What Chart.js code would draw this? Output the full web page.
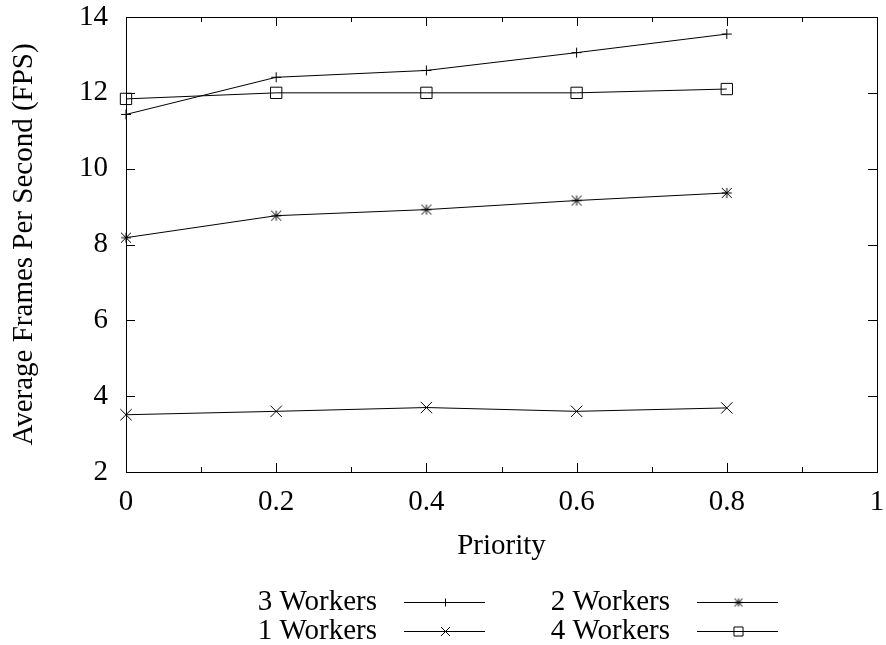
<!DOCTYPE html>
<html>
<head>
<meta charset="utf-8">
<script src="https://cdn.jsdelivr.net/npm/chart.js@4/dist/chart.umd.min.js"></script>
<style>
  body { margin: 0; background: #fff; }
  #wrap { width: 886px; height: 645px; }
</style>
</head>
<body>
<div id="wrap"><canvas id="fpsChart" width="886" height="645"></canvas></div>
<script>
// priority values on the x axis
const priority = [0, 0.2, 0.4, 0.6, 0.8];
// average FPS per worker count
const workers3 = [11.43, 12.41, 12.59, 13.06, 13.55];
const workers2 = [8.18, 8.76, 8.92, 9.16, 9.36];
const workers1 = [3.51, 3.60, 3.70, 3.60, 3.69];
const workers4 = [11.84, 12.0, 12.0, 12.0, 12.1];
const seriesNames = ["3 Workers", "2 Workers", "1 Workers", "4 Workers"];

const FONT = "'Liberation Serif', 'Times New Roman', serif";
const FS = 29;

// gnuplot style asterisk (+ and x in the same box)
function asterisk(r) {
  const c = document.createElement("canvas");
  c.width = c.height = 2 * r + 2;
  const g = c.getContext("2d");
  const m = r + 1;
  g.strokeStyle = "#000";
  g.lineWidth = 1;
  g.beginPath();
  g.moveTo(m, m - r); g.lineTo(m, m + r);
  g.moveTo(m - r, m); g.lineTo(m + r, m);
  g.moveTo(m - r, m - r); g.lineTo(m + r, m + r);
  g.moveTo(m - r, m + r); g.lineTo(m + r, m - r);
  g.stroke();
  return c;
}
const starBig = asterisk(5);
const starSmall = asterisk(4);

function pts(vals) {
  return priority.map((p, i) => ({ x: p, y: vals[i] }));
}

function makeSet(label, vals, style, radius, legendStyle) {
  return {
    label: label,
    data: pts(vals),
    borderColor: "#000",
    borderWidth: 1,
    pointStyle: style,
    legendStyle: legendStyle || style,
    pointRadius: radius,
    pointBorderColor: "#000",
    pointBorderWidth: 1,
    pointBackgroundColor: "rgba(0,0,0,0)",
    fill: false,
    tension: 0,
    clip: false,
  };
}

// gnuplot-like frame: box + inward ticks on all sides, and the key below
const framePlugin = {
  id: "frame",
  afterDatasetsDraw(chart) {
    const { ctx, chartArea: a, scales } = chart;
    ctx.save();
    ctx.strokeStyle = "#000";
    ctx.lineWidth = 1;
    ctx.strokeRect(a.left + 0.5, a.top + 0.5, a.right - a.left, a.bottom - a.top);
    ctx.beginPath();
    const xt = scales.x.ticks.map(t => t.value);
    xt.forEach((v, i) => {
      const px = Math.round(scales.x.getPixelForValue(v)) + 0.5;
      ctx.moveTo(px, a.bottom); ctx.lineTo(px, a.bottom - 9);
      ctx.moveTo(px, a.top); ctx.lineTo(px, a.top + 9);
      if (i < xt.length - 1) {
        const mx = Math.round(scales.x.getPixelForValue((v + xt[i + 1]) / 2)) + 0.5;
        ctx.moveTo(mx, a.bottom); ctx.lineTo(mx, a.bottom - 5);
        ctx.moveTo(mx, a.top); ctx.lineTo(mx, a.top + 5);
      }
    });
    scales.y.ticks.forEach(t => {
      const py = Math.round(scales.y.getPixelForValue(t.value)) + 0.5;
      ctx.moveTo(a.left, py); ctx.lineTo(a.left + 9, py);
      ctx.moveTo(a.right, py); ctx.lineTo(a.right - 9, py);
    });
    ctx.stroke();
    ctx.restore();
  },
  afterDraw(chart) {
    const { ctx } = chart;
    const cols = [{ textRight: 377, x0: 404, x1: 485 }, { textRight: 670, x0: 697, x1: 778 }];
    const rows = [602, 631];
    ctx.save();
    ctx.font = FS + "px " + FONT;
    ctx.textAlign = "right";
    ctx.textBaseline = "middle";
    chart.data.datasets.forEach((ds, i) => {
      const c = cols[i % 2];
      const y = rows[Math.floor(i / 2)];
      ctx.fillStyle = "#000";
      ctx.fillText(ds.label, c.textRight, y);
      ctx.strokeStyle = "#000";
      ctx.lineWidth = 1;
      ctx.beginPath();
      ctx.moveTo(c.x0, y + 0.5);
      ctx.lineTo(c.x1, y + 0.5);
      ctx.stroke();
      ctx.fillStyle = "rgba(0,0,0,0)";
      Chart.helpers.drawPoint(ctx, {
        pointStyle: ds.legendStyle,
        radius: ds.pointRadius * 0.8,
        borderWidth: 1,
      }, Math.round((c.x0 + c.x1) / 2) + 0.5, y + 0.5);
    });
    ctx.restore();
  },
};

const ctxFps = document.getElementById("fpsChart");
const fpsChart = new Chart(ctxFps, {
  type: "line",
  data: {
    datasets: [
      makeSet(seriesNames[0], workers3, "cross", 5),
      makeSet(seriesNames[1], workers2, starBig, 5, starSmall),
      makeSet(seriesNames[2], workers1, "crossRot", 8),
      makeSet(seriesNames[3], workers4, "rect", 8),
    ],
  },
  options: {
    responsive: false,
    animation: false,
    layout: { padding: { top: 17, right: 5, left: 0, bottom: 84 } },
    plugins: {
      legend: { display: false },
      tooltip: { enabled: false },
    },
    scales: {
      x: {
        type: "linear",
        min: 0,
        max: 1,
        grid: { display: false, drawTicks: false },
        border: { display: false },
        ticks: {
          stepSize: 0.2,
          padding: 16,
          color: "#000",
          font: { family: FONT, size: FS, lineHeight: 1 },
          callback: v => String(Number(v.toFixed(1))),
        },
        title: {
          display: true,
          text: "Priority",
          color: "#000",
          font: { family: FONT, size: FS, lineHeight: 1 },
          padding: { top: 0, bottom: 0 },
        },
        afterFit(scale) {
          scale.height = 89;
          scale.paddingLeft = 0;
          scale.paddingRight = 0;
        },
      },
      y: {
        min: 2,
        max: 14,
        grid: { display: false, drawTicks: false },
        border: { display: false },
        ticks: {
          stepSize: 2,
          padding: 18,
          color: "#000",
          font: { family: FONT, size: FS, lineHeight: 1 },
        },
        title: {
          display: true,
          text: "Average Frames Per Second (FPS)",
          color: "#000",
          font: { family: FONT, size: FS, lineHeight: 1 },
          padding: { top: 10, bottom: 0 },
        },
        afterFit(scale) {
          scale.width = 126;
          scale.paddingTop = 0;
          scale.paddingBottom = 0;
        },
      },
    },
  },
  plugins: [framePlugin],
});
</script>
</body>
</html>
